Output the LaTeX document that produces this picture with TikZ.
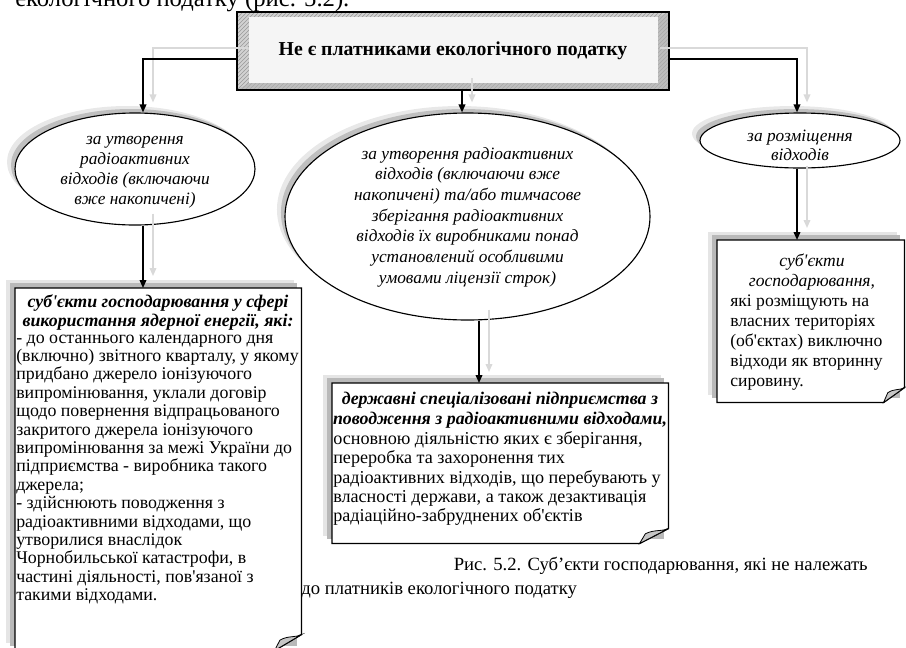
\documentclass[tikz,border=0pt]{standalone}
\usepackage{fontspec}
\setmainfont{Liberation Serif}[Ligatures=TeXOff]
\usetikzlibrary{calc,shapes.geometric,arrows.meta,patterns}

\tikzset{
  blk/.style={draw=black, line width=1.1pt, -{Triangle[length=6pt,width=5pt]}},
  shd/.style={draw=gray!30, line width=1.1pt, -{Triangle[length=6pt,width=5pt]}},
  oval/.style={ellipse, draw=black, line width=0.85pt, fill=white, inner sep=0pt},
  area/.style={rectangle, inner sep=0pt, anchor=north west},
  boxline/.style={draw=black, line width=1pt, fill=white},
  foldst/.style={draw=black, line width=0.6pt, fill=gray!45},
  ovaltext/.style={inner sep=0pt, align=center, font=\itshape\fontsize{13}{#1}\selectfont},
  headtext/.style={inner sep=0pt, align=center, font=\bfseries\itshape\fontsize{13.4}{#1}\selectfont},
  bodytext/.style={inner sep=0pt, align=left, anchor=west, font=\fontsize{13.4}{#1}\selectfont},
  capt/.style={inner sep=0pt, font=\fontsize{14}{16}\selectfont},
}

\begin{document}
\begin{tikzpicture}[x=0.75pt, y=-0.75pt]
\useasboundingbox (0,0) rectangle (906,647);
\begin{scope}
\clip (0,0) rectangle (906,647);

% last line of the running text above the figure
\node[capt, anchor=base west, font=\fontsize{18.5}{20}\selectfont] (runon) at (15,6.5)
  {екологічного податку (рис. 5.2).};

% ---- bevelled title frame ----
\fill[gray!35] (237,12) rectangle (669,90);
\fill[pattern=north east lines, pattern color=gray!80] (237,12) rectangle (669,90);
\fill[gray!60, opacity=0.6] (237,90) -- (669,90) -- (669,12) -- (658,17) -- (658,83) -- (249,83) -- cycle;
\draw[black, line width=1pt] (237,12) rectangle (669,90);
\fill[gray!8] (249,17) rectangle (658,83);
\node[rectangle, inner sep=0pt, minimum width=324pt, minimum height=58.5pt,
      font=\bfseries\fontsize{14.8}{17}\selectfont] (top) at (453,51)
      {Не є платниками екологічного податку};

% ---- ellipses with their shadows ----
\fill[gray!18] (127,162) ellipse [x radius=90pt, y radius=42pt];
\fill[gray!50] (131,165) ellipse [x radius=90pt, y radius=42pt];
\node[oval, minimum width=180pt, minimum height=84pt] (lell) at (135,169) {};

\fill[gray!18] (459.5,209.5) ellipse [x radius=136.9pt, y radius=77.6pt];
\fill[gray!50] (463.5,212.5) ellipse [x radius=136.9pt, y radius=77.6pt];
\node[oval, minimum width=273.75pt, minimum height=155.25pt] (mell) at (467.5,216.5) {};

\fill[gray!18] (792,133.5) ellipse [x radius=75pt, y radius=20.6pt];
\fill[gray!50] (796,136.5) ellipse [x radius=75pt, y radius=20.6pt];
\node[oval, minimum width=150pt, minimum height=41.25pt] (rell) at (800,140.5) {};

\node[ovaltext=15pt] (lelltext) at (135,172)
  {за утворення\\радіоактивних\\відходів (включаючи\\вже накопичені)};
\node[ovaltext=15.5pt] (melltext) at (467.5,217)
  {за утворення радіоактивних\\відходів (включаючи вже\\накопичені) та/або тимчасове\\зберігання радіоактивних\\відходів їх виробниками понад\\установлений особливими\\умовами ліцензії строк)};
\node[ovaltext=14.3pt] (relltext) at (800,145.5) {за розміщення\\відходів};

% ---- folded-corner boxes ----
\node[area, minimum width=214.5pt, minimum height=271.5pt] (lbox) at (15,288) {};
\node[area, minimum width=252pt, minimum height=120pt] (mbox) at (332,383) {};
\node[area, minimum width=140.25pt, minimum height=121.5pt] (rbox) at (717,240) {};

\foreach \b/\fx/\fy in {lbox/27/16, mbox/29/15, rbox/21/15} {
  \fill[gray!20] ($(\b.north west)+(-9,-8)$) rectangle ($(\b.south east)+(-8,-8)$);
  \fill[gray!55] ($(\b.north west)+(-5,-5)$) rectangle ($(\b.south east)+(-5,-5)$);
  \draw[boxline] (\b.north west) -- (\b.north east) -- ($(\b.south east)+(0,-\fy)$)
     -- ($(\b.south east)+(-\fx,0)$) -- (\b.south west) -- cycle;
  \draw[foldst] ($(\b.south east)+(-\fx,0)$) -- ($(\b.south east)+(-0.8*\fx,-0.65*\fy)$)
     .. controls ($(\b.south east)+(-0.5*\fx,-0.95*\fy)$) and ($(\b.south east)+(-0.2*\fx,-0.8*\fy)$)
     .. ($(\b.south east)+(0,-\fy)$) -- cycle;
}

\node[headtext=14.3pt] (lhead) at (158,312.5)
  {суб'єкти господарювання у сфері\\використання ядерної енергії, які:};
\node[bodytext=13.8pt] (lbody) at (16,469.5)
  {- до останнього календарного дня\\
   (включно) звітного кварталу, у якому\\
   придбано джерело іонізуючого\\
   випромінювання, уклали договір\\
   щодо повернення відпрацьованого\\
   закритого джерела іонізуючого\\
   випромінювання за межі України до\\
   підприємства - виробника такого\\
   джерела;\\
   - здійснюють поводження з\\
   радіоактивними відходами, що\\
   утворилися внаслідок\\
   Чорнобильської катастрофи, в\\
   частині діяльності, пов'язаної з\\
   такими відходами.};

\node[headtext=15pt] (mhead) at (500,410)
  {державні спеціалізовані підприємства з\\поводження з радіоактивними відходами,};
\node[bodytext=14.6pt, font=\fontsize{13.6}{14.6}\selectfont] (mbody) at (333,478.5)
  {основною діяльністю яких є зберігання,\\
   переробка та захоронення тих\\
   радіоактивних відходів, що перебувають у\\
   власності держави, а також дезактивація\\
   радіаційно-забруднених об'єктів};

\node[ovaltext=15pt, font=\itshape\fontsize{13.2}{15}\selectfont] (rhead) at (812,272.5)
  {суб'єкти\\господарювання,};
\node[bodytext=15pt, font=\fontsize{13.2}{15}\selectfont] (rbody) at (730,343)
  {які розміщують на\\власних територіях\\(об'єктах) виключно\\відходи як вторинну\\сировину.};

% ---- connector anchors ----
\coordinate (c1) at ($(top.west)+(0,8)$);
\coordinate (c2) at ($(lell.north)+(8,0)$);
\coordinate (c3) at ($(top.south)+(9,0)$);
\coordinate (c4) at ($(top.east)+(0,8)$);
\coordinate (c5) at ($(rell.north)+(-3,0)$);
\coordinate (c6) at ($(lell.south)+(8,0)$);
\coordinate (c7) at ($(mell.south)+(11.5,0)$);
\coordinate (c8) at ($(rell.south)+(-3,0)$);

% shadow connectors
\draw[shd] ($(top.west)+(11,-3)$) -| ($(c2)+(10,-10)$);
\draw[shd] ($(c3)+(10,-12)$) -- ($(c3 |- mell.north)+(10,-10)$);
\draw[shd] ($(top.east)+(-9,-3)$) -| ($(c5)+(10,-10)$);
\draw[shd] ($(c6)+(10,-12)$) -- ($(c6 |- lbox.north)+(10,-12)$);
\draw[shd] ($(c7)+(10,-11)$) -- ($(c7 |- mbox.north)+(10,-11)$);
\draw[shd] ($(c8)+(10,-3)$) -- ($(c8 |- rbox.north)+(10,-12)$);

% main connectors
\draw[blk] (c1) -| (c2);
\draw[blk] (c3) -- (c3 |- mell.north);
\draw[blk] (c4) -| (c5);
\draw[blk] (c6) -- (c6 |- lbox.north);
\draw[blk] (c7) -- (c7 |- mbox.north);
\draw[blk] (c8) -- (c8 |- rbox.north);

% ---- caption ----
\node[capt, anchor=base east] (capA) at (868,570) {Рис. 5.2. Суб’єкти господарювання, які не належать};
\node[capt, anchor=base west] (capB) at (301,594) {до платників екологічного податку};
\end{scope}
\end{tikzpicture}
\end{document}
